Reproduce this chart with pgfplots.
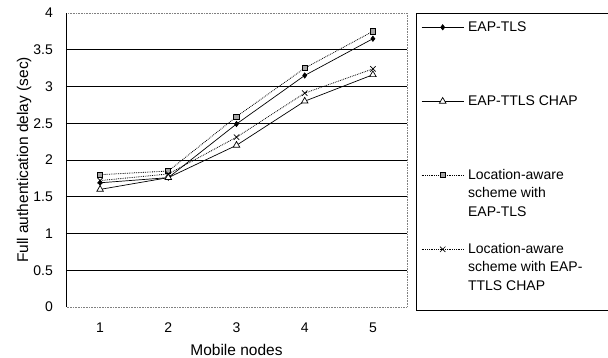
\documentclass[border=0pt]{standalone}
\usepackage{fontspec}
\setmainfont{Liberation Sans}
\usepackage{pgfplots}
\pgfplotsset{compat=1.18}
\newcommand{\lrow}[1]{\makebox[135pt][l]{\rule[-4pt]{0pt}{16pt}#1}}
\begin{document}
\begin{tikzpicture}
\begin{axis}[
  scale only axis, width=341pt, height=294pt,
  xmin=0.5, xmax=5.5, ymin=0, ymax=4,
  axis line style={draw=gray, densely dotted, line width=0.6pt},
  xtick={1,2,3,4,5},
  major x tick style={draw=none},
  extra x ticks={1.5,2.5,3.5,4.5},
  extra x tick labels={},
  extra x tick style={major tick length=3pt, tick style={draw=black, solid, line width=0.5pt}, grid=none},
  ytick={0.5,1,...,3.5},
  yticklabels={0.5,1,1.5,2,2.5,3,3.5},
  extra y ticks={0,4},
  extra y tick labels={0,4},
  extra y tick style={grid=none, tick style={draw=none}},
  major y tick style={draw=none},
  ymajorgrids,
  major grid style={draw=black, solid, line width=0.6pt},
  /pgf/number format/assume math mode=true,
  tick label style={font=\fontsize{14}{16}\selectfont},
  xticklabel style={inner sep=0pt, anchor=north, yshift=-16pt},
  yticklabel style={inner sep=0pt, anchor=east, xshift=-13pt},
  xlabel={Mobile nodes},
  ylabel={Full authentication delay (sec)},
  label style={font=\fontsize{15.5}{18}\selectfont},
  xlabel style={at={(axis description cs:0.5,-0.146)}, anchor=center},
  ylabel style={at={(axis description cs:-0.123,0.5)}, anchor=center},
  clip=false,
  legend style={at={(axis description cs:1,1)}, anchor=north west, xshift=9pt,
    draw=black, line width=0.6pt, inner xsep=5pt, inner ysep=6pt,
    font=\fontsize{14}{18}\selectfont, row sep=5.0pt,
    nodes={inner sep=0pt, anchor=base west},
    /tikz/every odd column/.append style={column sep=4pt}},
  legend image code/.code={\draw[mark repeat=2,mark phase=2,#1] plot coordinates {(0pt,4pt) (21pt,4pt) (42pt,4pt)};},
]
\addplot[black, solid, line width=0.7pt, mark=diamond*, mark size=2.6pt, mark options={solid, fill=black}]
  coordinates {(1,1.69) (2,1.76) (3,2.49) (4,3.15) (5,3.65)};
\addlegendentry{\lrow{EAP-TLS}}
\addlegendimage{empty legend}\addlegendentry{\lrow{}}
\addlegendimage{empty legend}\addlegendentry{\lrow{}}
\addlegendimage{empty legend}\addlegendentry{\lrow{}}
\addplot[black, solid, line width=0.7pt, mark=triangle*, mark size=3.8pt, mark options={solid, fill=white}]
  coordinates {(1,1.60) (2,1.76) (3,2.20) (4,2.80) (5,3.16)};
\addlegendentry{\lrow{EAP-TTLS CHAP}}
\addlegendimage{empty legend}\addlegendentry{\lrow{}}
\addlegendimage{empty legend}\addlegendentry{\lrow{}}
\addlegendimage{empty legend}\addlegendentry{\lrow{}}
\addplot[black, densely dotted, line width=0.8pt, mark=square*, mark size=2.6pt, mark options={solid, fill=gray!70, draw=black, line width=0.9pt}]
  coordinates {(1,1.80) (2,1.85) (3,2.59) (4,3.25) (5,3.75)};
\addlegendentry{\lrow{Location-aware}}
\addlegendimage{empty legend}\addlegendentry{\lrow{scheme with}}
\addlegendimage{empty legend}\addlegendentry{\lrow{EAP-TLS}}
\addlegendimage{empty legend}\addlegendentry{\lrow{}}
\addplot[black, densely dotted, line width=0.8pt, mark=x, mark size=3.8pt, mark options={solid, line width=0.7pt}]
  coordinates {(1,1.72) (2,1.81) (3,2.31) (4,2.91) (5,3.24)};
\addlegendentry{\lrow{Location-aware}}
\addlegendimage{empty legend}\addlegendentry{\lrow{scheme with EAP-}}
\addlegendimage{empty legend}\addlegendentry{\lrow{TTLS CHAP}}
\addlegendimage{empty legend}\addlegendentry{\makebox[135pt][l]{\rule{0pt}{6pt}}}
\draw[black, line width=0.9pt] (axis cs:0.5,0) -- (axis cs:0.5,4);
\end{axis}
\pgfresetboundingbox
\path[use as bounding box] (-66pt,-51pt) rectangle (542pt,307pt);
\end{tikzpicture}
\end{document}
